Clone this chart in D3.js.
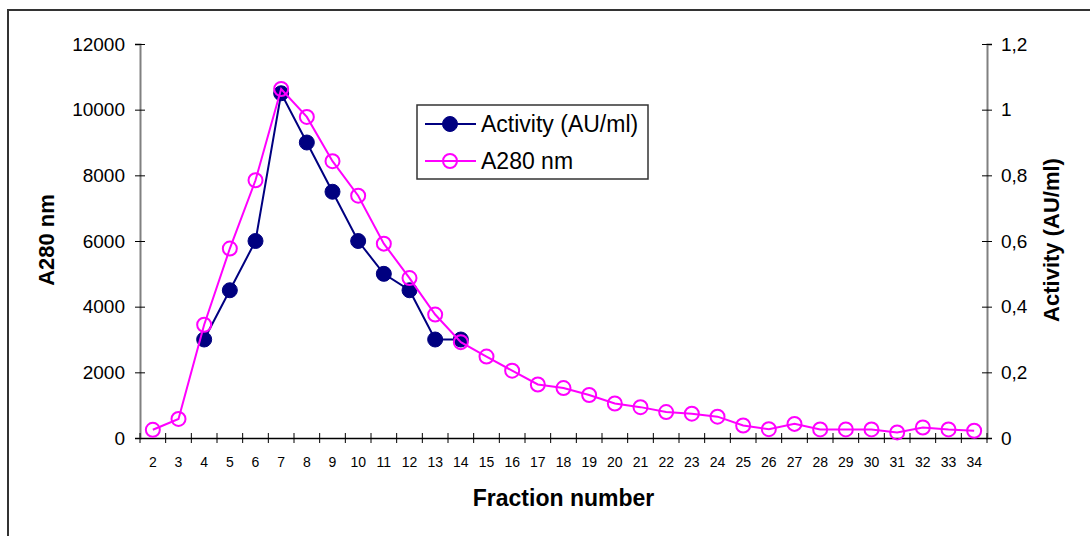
<!DOCTYPE html>
<html>
<head>
<meta charset="utf-8">
<script src="https://cdn.jsdelivr.net/npm/d3@7"></script>
<style>
  html, body { margin: 0; padding: 0; background: #fff; }
  svg { display: block; font-family: Arial, "Liberation Sans", sans-serif; }
</style>
</head>
<body>
<svg id="chart" width="1090" height="536"></svg>
<script>
// Fraction numbers on the x axis
const fractions = d3.range(2, 35);

// Activity (AU/ml), plotted against the left axis, fractions 4-14
const activityFractions = [4, 5, 6, 7, 8, 9, 10, 11, 12, 13, 14];
const activityValues = [3000, 4500, 6000, 10500, 9000, 7500, 6000, 5000, 4500, 3000, 3000];

// A280 nm absorbance, plotted against the right axis, fractions 2-34
const a280Fractions = fractions;
const a280Values = [0.025, 0.058, 0.345, 0.577, 0.785, 1.063, 0.978, 0.843, 0.738, 0.592,
                    0.487, 0.376, 0.292, 0.248, 0.205, 0.163, 0.152, 0.131, 0.105, 0.094,
                    0.079, 0.074, 0.065, 0.038, 0.027, 0.043, 0.026, 0.026, 0.026, 0.017,
                    0.032, 0.026, 0.022];

const leftTicks = [0, 2000, 4000, 6000, 8000, 10000, 12000];
const rightTicks = [0, 0.2, 0.4, 0.6, 0.8, 1, 1.2];

const svg = d3.select("#chart");
const plot = { left: 140, right: 987, top: 44, bottom: 438 };

// outer chart frame
svg.append("rect")
  .attr("x", 8).attr("y", 10)
  .attr("width", 1100).attr("height", 560)
  .attr("fill", "none").attr("stroke", "#333").attr("stroke-width", 2);

const x = d3.scaleBand().domain(fractions).range([plot.left, plot.right]);
const yLeft = d3.scaleLinear().domain([0, 12000]).range([plot.bottom, plot.top]);
const yRight = d3.scaleLinear().domain([0, 1.2]).range([plot.bottom, plot.top]);
const cx = f => x(f) + x.bandwidth() / 2;

// left axis
const gl = svg.append("g").attr("transform", `translate(${plot.left},0)`)
  .call(d3.axisLeft(yLeft).tickValues(leftTicks).tickSize(5).tickPadding(10).tickFormat(d3.format("d")));
gl.select(".domain").attr("stroke", "#808080").attr("stroke-width", 2);
gl.selectAll(".tick line").attr("stroke", "#000").attr("x2", 5).attr("x1", -5);
gl.selectAll(".tick text").attr("font-size", 19).attr("fill", "#000");

// right axis
const commaFmt = d => String(d).replace(".", ",");
const gr = svg.append("g").attr("transform", `translate(${plot.right},0)`)
  .call(d3.axisRight(yRight).tickValues(rightTicks).tickSize(5).tickPadding(9).tickFormat(commaFmt));
gr.select(".domain").attr("stroke", "#808080").attr("stroke-width", 2);
gr.selectAll(".tick line").attr("stroke", "#000").attr("x1", -5).attr("x2", 5);
gr.selectAll(".tick text").attr("font-size", 19).attr("fill", "#000");

// x axis: labels centred in each band, ticks crossing at band edges
const gx = svg.append("g").attr("transform", `translate(0,${plot.bottom})`)
  .call(d3.axisBottom(x).tickSize(0).tickPadding(19));
gx.select(".domain").attr("stroke", "#000").attr("stroke-width", 1.5);
gx.selectAll(".tick text").attr("font-size", 14).attr("fill", "#000");
const edges = fractions.map(f => x(f)).concat([plot.right]);
gx.selectAll(".edge").data(edges).join("line")
  .attr("x1", d => d).attr("x2", d => d)
  .attr("y1", -5).attr("y2", 5)
  .attr("stroke", "#000").attr("stroke-width", 1);

// axis titles
svg.append("text")
  .attr("transform", `translate(54,240) rotate(-90)`)
  .attr("text-anchor", "middle").attr("font-weight", "bold").attr("font-size", 22)
  .text("A280 nm");
svg.append("text")
  .attr("transform", `translate(1059,240) rotate(-90)`)
  .attr("text-anchor", "middle").attr("font-weight", "bold").attr("font-size", 22)
  .text("Activity (AU/ml)");
svg.append("text")
  .attr("x", (plot.left + plot.right) / 2).attr("y", 506)
  .attr("text-anchor", "middle").attr("font-weight", "bold").attr("font-size", 23)
  .text("Fraction number");

const navy = "#000080", magenta = "#FF00FF";

// Activity series
const activity = activityFractions.map((f, i) => ({ f, v: activityValues[i] }));
svg.append("path").datum(activity)
  .attr("fill", "none").attr("stroke", navy).attr("stroke-width", 2)
  .attr("d", d3.line().x(d => cx(d.f)).y(d => yLeft(d.v)));
svg.append("g").selectAll("circle").data(activity).join("circle")
  .attr("cx", d => cx(d.f)).attr("cy", d => yLeft(d.v)).attr("r", 7.5)
  .attr("fill", navy).attr("stroke", navy).attr("stroke-width", 1);

// A280 series
const a280 = a280Fractions.map((f, i) => ({ f, v: a280Values[i] }));
svg.append("path").datum(a280)
  .attr("fill", "none").attr("stroke", magenta).attr("stroke-width", 2)
  .attr("d", d3.line().x(d => cx(d.f)).y(d => yRight(d.v)));
svg.append("g").selectAll("circle").data(a280).join("circle")
  .attr("cx", d => cx(d.f)).attr("cy", d => yRight(d.v)).attr("r", 7)
  .attr("fill", "none").attr("stroke", magenta).attr("stroke-width", 2);

// legend
const lg = svg.append("g");
lg.append("rect").attr("x", 417).attr("y", 105).attr("width", 231).attr("height", 74)
  .attr("fill", "#fff").attr("stroke", "#333").attr("stroke-width", 1.5);
const legendItems = [
  { label: "Activity (AU/ml)", color: navy, filled: true, y: 124 },
  { label: "A280 nm", color: magenta, filled: false, y: 161 }
];
legendItems.forEach(it => {
  lg.append("line").attr("x1", 425).attr("x2", 476).attr("y1", it.y).attr("y2", it.y)
    .attr("stroke", it.color).attr("stroke-width", 2);
  lg.append("circle").attr("cx", 450).attr("cy", it.y).attr("r", it.filled ? 7.5 : 7)
    .attr("fill", it.filled ? it.color : "none").attr("stroke", it.color)
    .attr("stroke-width", it.filled ? 1 : 2);
  lg.append("text").attr("x", 481).attr("y", it.y).attr("dy", "0.36em")
    .attr("font-size", 23).attr("fill", "#000").text(it.label);
});
</script>
</body>
</html>
